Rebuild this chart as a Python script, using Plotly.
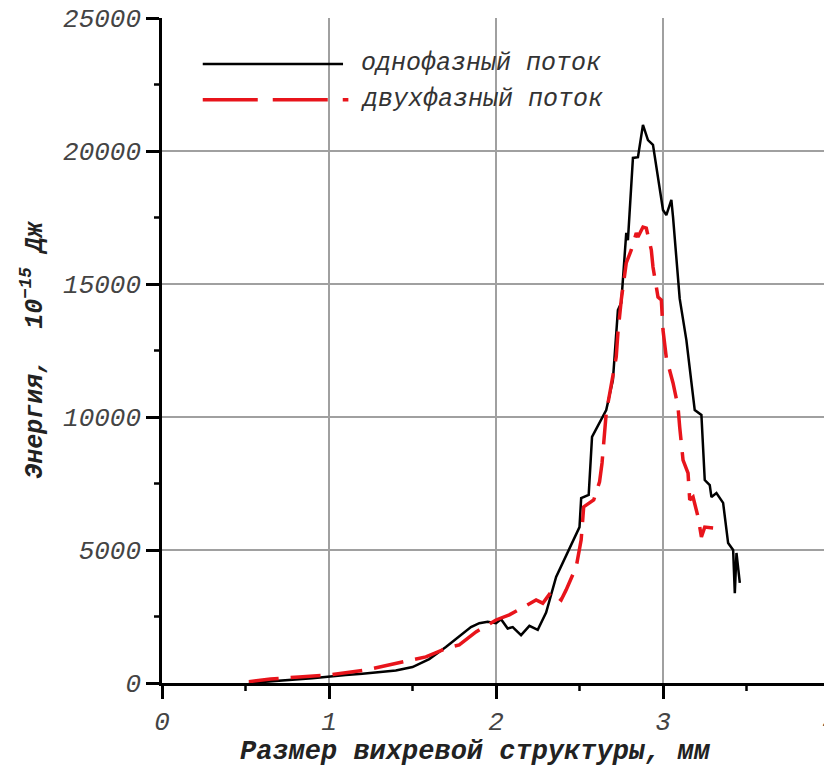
import plotly.graph_objects as go

# однофазный поток
x_one = [0.52, 0.6, 0.7, 0.8, 0.9, 1.0, 1.1, 1.2, 1.3, 1.4, 1.5, 1.6, 1.7, 1.8, 1.85, 1.9, 1.95, 2.0,
         2.03, 2.07, 2.1, 2.15, 2.2, 2.25, 2.3, 2.36, 2.44, 2.5, 2.51, 2.555, 2.575, 2.66, 2.7, 2.73,
         2.75, 2.78, 2.79, 2.82, 2.85, 2.88, 2.91, 2.94, 3.0, 3.02, 3.05, 3.06, 3.1, 3.14, 3.19, 3.23,
         3.25, 3.28, 3.29, 3.32, 3.36, 3.39, 3.42, 3.43, 3.44, 3.46]
y_one = [0, 30, 80, 130, 180, 250, 300, 350, 400, 470, 600, 900, 1350, 1850, 2100, 2250, 2300, 2250,
         2400, 2050, 2100, 1800, 2150, 2000, 2650, 3990, 5080, 5860, 6950, 7070, 9250, 10260, 11390, 14020,
         14290, 16920, 16650, 19740, 19770, 20980, 20410, 20230, 17780, 17590, 18160, 17520, 14450, 12890, 10260, 10075,
         7630, 7440, 6990, 7140, 6770, 5260, 5000, 3380, 4890, 3760]

# двухфазный поток
x_two = [0.52, 0.65, 0.82, 1.0, 1.22, 1.42, 1.58, 1.72, 1.78, 1.88, 2.0, 2.08, 2.18, 2.24, 2.28, 2.33,
         2.39, 2.42, 2.48, 2.51, 2.525, 2.585, 2.62, 2.635, 2.66, 2.69, 2.72, 2.73, 2.75, 2.78, 2.81,
         2.84, 2.85, 2.88, 2.9, 2.93, 2.94, 2.97, 2.99, 3.0, 3.02, 3.06, 3.09, 3.1, 3.12, 3.15, 3.16,
         3.18, 3.21, 3.23, 3.25, 3.3]
y_two = [50, 150, 225, 300, 490, 750, 980, 1350, 1430, 1920, 2370, 2560, 2930, 3120, 3000, 3420,
         3120, 3500, 4360, 5380, 6620, 6880, 7560, 8270, 10150, 11280, 12260, 13160, 14400, 15790, 16280,
         16920, 16770, 17140, 17100, 16280, 15640, 14510, 14400, 13270, 12220, 11280, 10380, 9620, 8380, 7890, 6880,
         6990, 6240, 5490, 5860, 5830]

x_ticks = [0, 1, 2, 3, 4]
x_minor = [0.5, 1.5, 2.5, 3.5]
y_ticks = [0, 5000, 10000, 15000, 20000, 25000]
y_minor = [2500, 7500, 12500, 17500, 22500]
names = ["однофазный поток", "двухфазный поток"]

x_max = x_ticks[-1]
y_max = y_ticks[-1]

mono = "Liberation Mono, Courier New, monospace"
tick_font = dict(family=mono, size=26, color="#444444", style="italic")

fig = go.Figure()
fig.add_trace(go.Scatter(x=x_one, y=y_one, mode="lines", name=names[0],
                         line=dict(color="black", width=2.5), showlegend=False))
fig.add_trace(go.Scatter(x=x_two, y=y_two, mode="lines", name=names[1],
                         line=dict(color="#e8141b", width=3.5, dash="30px,12px"), showlegend=False))

# сетка (без линии на 25000)
for v in x_ticks[1:]:
    fig.add_shape(type="line", xref="x", yref="paper", x0=v, x1=v, y0=0, y1=1,
                  line=dict(color="#a0a0a0", width=2), layer="below")
for v in y_ticks[1:-1]:
    fig.add_shape(type="line", xref="paper", yref="y", x0=0, x1=1, y0=v, y1=v,
                  line=dict(color="#a0a0a0", width=2), layer="below")

# малые деления (в долях области, чтобы не обрезались)
for v in x_minor:
    fig.add_shape(type="line", xref="paper", yref="paper", x0=v / x_max, x1=v / x_max,
                  ysizemode="pixel", yanchor=0, y0=0, y1=-8,
                  line=dict(color="black", width=2.5))
for v in y_minor:
    fig.add_shape(type="line", xref="paper", yref="paper", y0=v / y_max, y1=v / y_max,
                  xsizemode="pixel", xanchor=0, x0=0, x1=-8,
                  line=dict(color="black", width=2.5))

# легенда вручную
fig.add_shape(type="line", xref="paper", yref="paper", x0=0.061, x1=0.271, y0=0.931, y1=0.931,
              line=dict(color="black", width=2.5))
fig.add_shape(type="line", xref="paper", yref="paper", x0=0.061, x1=0.279, y0=0.877, y1=0.877,
              line=dict(color="#e8141b", width=3.5, dash="55px,15px"))
for name, yy in zip(names, [0.931, 0.877]):
    fig.add_annotation(text=name, xref="paper", yref="paper", x=0.295, y=yy, xanchor="left",
                       yanchor="middle", showarrow=False,
                       font=dict(family=mono, size=25, color="#333333", style="italic"))

# подпись оси X
fig.add_annotation(text="Размер вихревой структуры, мм", xref="paper", yref="paper",
                   x=0.469, y=-0.104, xanchor="center", yanchor="middle", showarrow=False,
                   font=dict(family=mono, size=27, color="#222222", style="italic", weight="bold"))

fig.update_layout(
    width=832, height=772,
    margin=dict(l=154, r=10, t=10, b=97),
    plot_bgcolor="white", paper_bgcolor="white",
    xaxis=dict(range=[0, x_max], tickmode="array", tickvals=x_ticks, automargin=False,
               ticklabeloverflow="allow", showgrid=False, zeroline=False,
               showline=True, linecolor="black", linewidth=2.5,
               ticks="outside", ticklen=13, tickwidth=2.5, tickcolor="black",
               tickfont=tick_font),
    yaxis=dict(range=[0, y_max], tickmode="array", tickvals=y_ticks, ticktext=[str(v) for v in y_ticks],
               automargin=False, ticklabeloverflow="allow", showgrid=False, zeroline=False,
               showline=True, linecolor="black", linewidth=2.5,
               ticks="outside", ticklen=13, tickwidth=2.5, tickcolor="black",
               tickfont=tick_font,
               title=dict(text="Энергия,  10<sup>−15</sup> Дж", standoff=14,
                          font=dict(family=mono, size=25, color="#222222", style="italic", weight="bold"))),
)

fig.write_html("out.html")
